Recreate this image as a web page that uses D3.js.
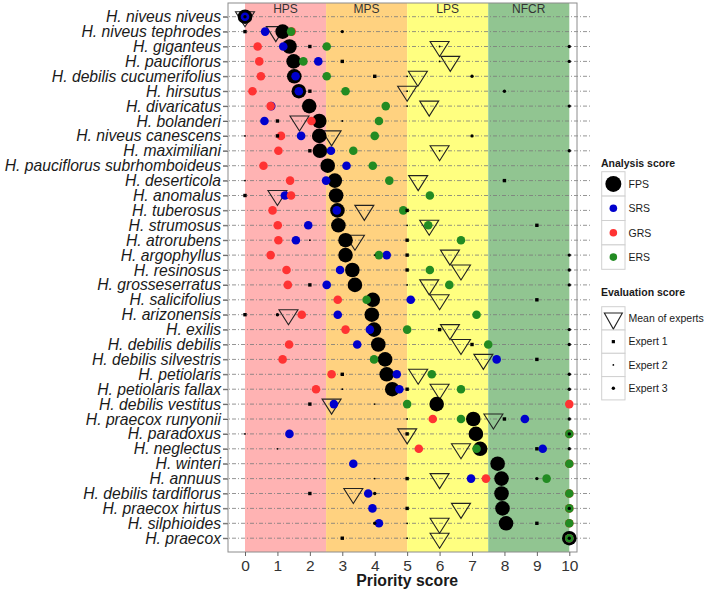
<!DOCTYPE html>
<html><head><meta charset="utf-8">
<script src="https://cdn.jsdelivr.net/npm/d3@7"></script>
<style>
body{margin:0;background:#fff}
svg{display:block;font-family:"Liberation Sans",Arial,Helvetica,sans-serif}
</style>
</head><body>
<svg id="chart" width="708" height="593"></svg>
<script>
// ---------- data ----------
const species = ["H. niveus niveus","H. niveus tephrodes","H. giganteus","H. pauciflorus","H. debilis cucumerifolius","H. hirsutus","H. divaricatus","H. bolanderi","H. niveus canescens","H. maximiliani","H. pauciflorus subrhomboideus","H. deserticola","H. anomalus","H. tuberosus","H. strumosus","H. atrorubens","H. argophyllus","H. resinosus","H. grosseserratus","H. salicifolius","H. arizonensis","H. exilis","H. debilis debilis","H. debilis silvestris","H. petiolaris","H. petiolaris fallax","H. debilis vestitus","H. praecox runyonii","H. paradoxus","H. neglectus","H. winteri","H. annuus","H. debilis tardiflorus","H. praecox hirtus","H. silphioides","H. praecox"];

const fps = [0,1.16,1.37,1.5,1.52,1.66,1.98,2.29,2.29,2.31,2.55,2.77,2.81,2.85,2.88,3.1,3.1,3.31,3.39,3.94,3.91,3.98,4.11,4.32,4.37,4.54,5.91,7.04,7.12,7.25,7.79,7.91,7.91,7.94,8.05,10];
const srs = [0,0.62,1.18,2.26,1.56,1.66,0.81,0.6,1.73,2.65,3.13,2.5,1.23,2.83,1.95,1.57,4.37,2.93,2.52,5.11,2.86,3.85,3.46,7.76,4.68,4.76,2.74,8.63,1.37,9.18,3.34,6.97,3.8,3.93,4.13,10];
const grs = [null,1.44,0.39,0.44,0.49,0.23,0.79,2.05,1.11,1.03,0.57,1.39,1.42,0.85,1.01,1.03,0.79,1.28,1.32,2.86,1.75,3.1,1.36,1.16,2.67,2.19,10,5.79,10,5.36,10,7.43,10,10,10,10];
const ers = [null,1.42,2.52,1.8,2.52,3.1,4.34,4.13,4.0,3.34,3.94,4.45,5.7,4.88,5.65,6.66,4.13,5.7,6.3,3.75,7.14,5.0,7.5,3.98,5.76,6.66,5.0,6.66,10,7.14,10,9.3,10,10,10,10];

const meanExperts = [0,0.95,6.0,6.33,5.33,5.0,5.68,1.68,2.67,6.0,null,5.34,1.0,3.68,5.68,3.39,6.32,6.66,5.68,6.0,1.34,6.32,6.66,7.35,5.34,6.0,2.67,7.66,5.0,6.66,null,6.0,3.34,6.66,6.0,6.0];
const expert1 = [null,0,2,3,4,2,null,1,1,2,null,8,0,5,9,5,5,5,2,9,0,6,7,9,3,5,2,8,5,9,null,5,2,5,9,3];
const expert2 = [null,null,6,6,5,5,5,3,0,6,null,0,null,null,5,2,4,null,5,null,null,null,null,null,null,3,4,5,0,1,null,4,null,null,5,5];
const expert3 = [0,3,10,10,7,8,10,null,7,10,null,null,null,null,null,null,10,10,10,null,1,10,10,null,10,10,null,10,10,10,null,9,4,10,4,10];

const bandNames = ["HPS","MPS","LPS","NFCR"];
const bandStarts = [0,2.5,5,7.5];
const bandEnds = [2.5,5,7.5,10];
const bandColors = ["#FFB3B3","#FFD280","#FFFF80","#91C591"];
const xTicks = [0,1,2,3,4,5,6,7,8,9,10];

const analysisNames = ["FPS","SRS","GRS","ERS"];
const analysisColors = ["#000000","#0000CD","#FF3333","#228B22"];
const evalNames = ["Mean of experts","Expert 1","Expert 2","Expert 3"];

// ---------- layout ----------
const svg = d3.select("#chart");
const panel = {left:228, right:577, top:3, bottom:552};
const x = d3.scaleLinear().domain([0,10]).range([245,569.3]);
const y = d3.scalePoint().domain(species).range([16.7,538.2]);

// bands
svg.append("g").selectAll("rect").data(bandNames).join("rect")
  .attr("x",(d,i)=>x(bandStarts[i])).attr("width",(d,i)=>x(bandEnds[i])-x(bandStarts[i]))
  .attr("y",panel.top).attr("height",panel.bottom-panel.top)
  .attr("fill",(d,i)=>bandColors[i]);
svg.append("g").selectAll("text").data(bandNames).join("text")
  .attr("x",(d,i)=>x((bandStarts[i]+bandEnds[i])/2)).attr("y",12.5)
  .attr("text-anchor","middle").attr("font-size",12).attr("fill","#333")
  .text(d=>d);

// row dashed lines
svg.append("g").selectAll("line").data(species).join("line")
  .attr("x1",223).attr("x2",590).attr("y1",d=>y(d)).attr("y2",d=>y(d))
  .attr("stroke","#7a7a7a").attr("stroke-width",0.8).attr("stroke-dasharray","4,2,1,2");

// panel border
svg.append("rect").attr("x",panel.left).attr("y",panel.top)
  .attr("width",panel.right-panel.left).attr("height",panel.bottom-panel.top)
  .attr("fill","none").attr("stroke","#8c8c8c").attr("stroke-width",1);

// axes
const yAxis = svg.append("g").attr("transform",`translate(${panel.left},0)`)
  .call(d3.axisLeft(y).tickSize(5).tickPadding(2));
yAxis.select(".domain").remove();
yAxis.selectAll(".tick line").attr("stroke","#666");
yAxis.selectAll(".tick text").attr("font-size",15.7).attr("font-style","italic")
  .attr("fill","#1a1a1a").attr("font-family","'Liberation Sans',Arial,sans-serif");

const xAxis = svg.append("g").attr("transform",`translate(0,${panel.bottom})`)
  .call(d3.axisBottom(x).tickValues(xTicks).tickFormat(d3.format("d")).tickSize(4).tickPadding(4));
xAxis.select(".domain").remove();
xAxis.selectAll(".tick line").attr("stroke","#666");
xAxis.selectAll(".tick text").attr("font-size",15.5).attr("fill","#333")
  .attr("font-family","'Liberation Sans',Arial,sans-serif");

svg.append("text").attr("x",(x(0)+x(10))/2).attr("y",586)
  .attr("text-anchor","middle").attr("font-weight","bold").attr("font-size",15.8)
  .attr("fill","#1a1a1a").text("Priority score");

// marks
const tri = (cx,cy,w,h)=>`M${cx-w/2},${cy-h/3}L${cx+w/2},${cy-h/3}L${cx},${cy+2*h/3}Z`;
const idx = d3.range(species.length);

svg.append("g").selectAll("path").data(idx.filter(i=>meanExperts[i]!=null)).join("path")
  .attr("d",i=>tri(x(meanExperts[i]),y(species[i]),19,15))
  .attr("fill","none").attr("stroke","#222").attr("stroke-width",1.1);

function dots(arr,r,color){
  svg.append("g").selectAll("circle").data(idx.filter(i=>arr[i]!=null)).join("circle")
    .attr("cx",i=>x(arr[i])).attr("cy",i=>y(species[i])).attr("r",r).attr("fill",color);
}
dots(fps,7.3,analysisColors[0]);
dots(srs,4.3,analysisColors[1]);
dots(grs,4.3,analysisColors[2]);
dots(ers,4.3,analysisColors[3]);

svg.append("g").selectAll("rect").data(idx.filter(i=>expert1[i]!=null)).join("rect")
  .attr("x",i=>x(expert1[i])-1.7).attr("y",i=>y(species[i])-1.7)
  .attr("width",3.4).attr("height",3.4).attr("fill","#000");
dots(expert2,0.9,"#000");
dots(expert3,1.7,"#000");

// legend
const lg = svg.append("g");
const boxX = 601.7, boxW = 23.3, labX = 628.5;
lg.append("text").attr("x",601).attr("y",166.5).attr("font-weight","bold").attr("font-size",10.5)
  .attr("fill","#1a1a1a").text("Analysis score");
const aTop = 171.7, aH = 24.4;
analysisNames.forEach((n,i)=>{
  const cy = aTop + aH*i + aH/2;
  lg.append("rect").attr("x",boxX).attr("y",aTop+aH*i).attr("width",boxW).attr("height",aH)
    .attr("fill","#fff").attr("stroke","#d0d0d0").attr("stroke-width",1);
  lg.append("circle").attr("cx",boxX+boxW/2).attr("cy",cy).attr("r",i===0?8:3.8).attr("fill",analysisColors[i]);
  lg.append("text").attr("x",labX).attr("y",cy+3.8).attr("font-size",10.5).attr("fill","#1a1a1a").text(n);
});
lg.append("text").attr("x",601).attr("y",295.5).attr("font-weight","bold").attr("font-size",10.5)
  .attr("fill","#1a1a1a").text("Evaluation score");
const eTop = 306.7, eH = 23.3;
evalNames.forEach((n,i)=>{
  const cy = eTop + eH*i + eH/2;
  const cx = boxX+boxW/2;
  lg.append("rect").attr("x",boxX).attr("y",eTop+eH*i).attr("width",boxW).attr("height",eH)
    .attr("fill","#fff").attr("stroke","#d0d0d0").attr("stroke-width",1);
  if(i===0) lg.append("path").attr("d",tri(cx,cy,18,16)).attr("fill","none").attr("stroke","#222").attr("stroke-width",1.1);
  if(i===1) lg.append("rect").attr("x",cx-1.6).attr("y",cy-1.6).attr("width",3.2).attr("height",3.2).attr("fill","#000");
  if(i===2) lg.append("circle").attr("cx",cx).attr("cy",cy).attr("r",0.9).attr("fill","#000");
  if(i===3) lg.append("circle").attr("cx",cx).attr("cy",cy).attr("r",1.7).attr("fill","#000");
  lg.append("text").attr("x",labX).attr("y",cy+3.8).attr("font-size",10.5).attr("fill","#1a1a1a").text(n);
});
</script>
</body></html>
